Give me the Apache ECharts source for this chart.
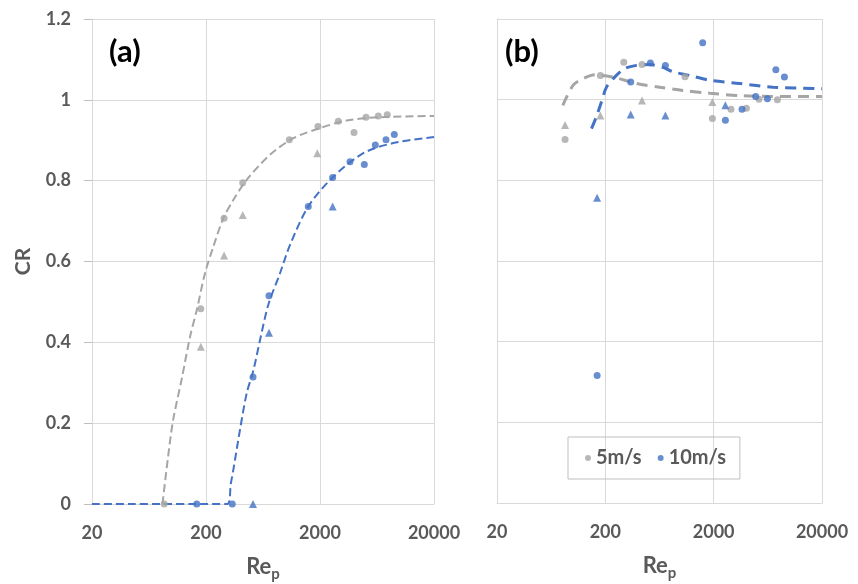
<!DOCTYPE html>
<html>
<head>
<meta charset="utf-8">
<script src="https://cdn.jsdelivr.net/npm/echarts@6/dist/echarts.min.js"></script>
<style>
  html, body { margin: 0; padding: 0; background: #fff; }
  #chart { width: 858px; height: 584px; }
</style>
</head>
<body>
<div id="chart"></div>
<script>
// x tick labels (Re_p, log spaced)
const xTicks = [20, 200, 2000, 20000];

// panel (a)
const reGreyCircA = [86, 180, 288, 420, 1076, 1920, 2896, 3975, 5066, 6492, 7780];
const crGreyCircA = [0, 0.483, 0.707, 0.795, 0.901, 0.934, 0.947, 0.919, 0.957, 0.96, 0.963];
const reGreyTriA = [180, 288, 420, 1894];
const crGreyTriA = [0.389, 0.615, 0.715, 0.868];
const reBlueCircA = [166, 340, 517, 714, 1578, 2582, 3666, 4894, 6112, 7586, 8972];
const crBlueCircA = [0, 0, 0.314, 0.515, 0.736, 0.808, 0.847, 0.84, 0.888, 0.901, 0.914];
const reBlueTriA = [517, 714, 2582];
const crBlueTriA = [0, 0.424, 0.736];
// fit curves (a)
const reFitGreyA = [83, 93, 103, 122, 145, 166, 196, 232, 284, 347, 455, 728, 1166, 2000, 3430, 6720, 20000];
const crFitGreyA = [0, 0.117, 0.208, 0.307, 0.414, 0.48, 0.571, 0.637, 0.707, 0.752, 0.802, 0.864, 0.905, 0.93, 0.949, 0.957, 0.96];
const reFitBlueA = [20, 308, 330, 347, 397, 455, 520, 595, 704, 892, 1092, 1578, 2582, 4797, 8790, 20000];
const crFitBlueA = [0, 0, 0.05, 0.084, 0.183, 0.274, 0.33, 0.405, 0.493, 0.571, 0.641, 0.736, 0.808, 0.868, 0.893, 0.908];

// panel (b)
const reGreyCircB = [85, 180, 296, 436, 1088, 1946, 2890, 4010, 5242, 7749];
const crGreyCircB = [0.901, 1.06, 1.093, 1.087, 1.057, 0.953, 0.976, 0.979, 1.001, 1.0];
const reGreyTriB = [85, 180, 436, 1946];
const crGreyTriB = [0.937, 0.961, 0.998, 0.994];
const reBlueCircB = [168, 343, 521, 717, 1584, 2566, 3654, 4886, 6266, 7500, 8996];
const crBlueCircB = [0.316, 1.044, 1.091, 1.085, 1.141, 0.949, 0.976, 1.008, 1.002, 1.074, 1.056];
const reBlueTriB = [168, 343, 717, 2566];
const crBlueTriB = [0.757, 0.963, 0.961, 0.986];
const reFitGreyB = [81, 101, 124, 160, 190, 253, 387, 635, 1042, 1838, 3478, 7064, 20000];
const crFitGreyB = [0.986, 1.036, 1.052, 1.062, 1.06, 1.054, 1.04, 1.031, 1.023, 1.016, 1.01, 1.008, 1.008];
const reFitBlueB = [149, 165, 184, 205, 244, 302, 387, 514, 681, 843, 1202, 1838, 3478, 7064, 20000];
const crFitBlueB = [0.928, 0.957, 0.994, 1.031, 1.056, 1.077, 1.085, 1.087, 1.08, 1.069, 1.06, 1.048, 1.04, 1.031, 1.027];

const GREY = '#A5A5A5';
const BLUE = '#4472C4';
const TEXT = '#595959';
const FONT = 'Lato, "Open Sans", sans-serif';

// x is plotted as decades above 20
const lx = (re) => Math.log10(re / xTicks[0]);
const pairs = (xs, ys) => xs.map((x, i) => [lx(x), ys[i]]);

function xAxisFor(gridIndex) {
  return {
    type: 'value',
    gridIndex,
    min: 0,
    max: lx(xTicks[xTicks.length - 1]),
    interval: 1,
    name: '{r|Re}{s|p}',
    nameLocation: 'middle',
    nameGap: 48,
    nameTextStyle: {
      rich: {
        r: { fontFamily: FONT, fontSize: 22, fontWeight: 'bold', color: TEXT },
        s: { fontFamily: FONT, fontSize: 15, fontWeight: 'bold', color: TEXT, padding: [15, 0, 0, 0] }
      }
    },
    axisLine: { show: true, lineStyle: { color: '#d9d9d9' } },
    axisTick: { show: false },
    axisLabel: {
      margin: 20,
      fontFamily: FONT,
      fontSize: 18,
      fontWeight: 'bold',
      color: TEXT,
      formatter: (v) => String(Math.round(xTicks[0] * Math.pow(10, v)))
    },
    splitLine: { show: true, lineStyle: { color: '#d9d9d9' } }
  };
}

function yAxisFor(gridIndex, labelled) {
  return {
    type: 'value',
    gridIndex,
    min: 0,
    max: 1.2,
    interval: 0.2,
    name: labelled ? 'CR' : '',
    nameLocation: 'middle',
    nameGap: 58,
    nameTextStyle: { fontFamily: FONT, fontSize: 21, fontWeight: 'bold', color: TEXT },
    axisLine: { show: true, lineStyle: { color: '#d9d9d9' } },
    axisTick: { show: labelled, length: 8, lineStyle: { color: '#bfbfbf' } },
    axisLabel: {
      show: labelled,
      margin: 21,
      fontFamily: FONT,
      fontSize: 18,
      fontWeight: 'bold',
      color: TEXT
    },
    splitLine: { show: true, lineStyle: { color: '#d9d9d9' } }
  };
}

function dots(name, idx, xs, ys, color, symbol) {
  return {
    name,
    type: 'scatter',
    xAxisIndex: idx,
    yAxisIndex: idx,
    symbol,
    symbolSize: symbol === 'triangle' ? 8 : 7,
    itemStyle: { color },
    z: 5,
    data: pairs(xs, ys)
  };
}

function fit(name, idx, xs, ys, color, width, dash) {
  return {
    name,
    type: 'line',
    xAxisIndex: idx,
    yAxisIndex: idx,
    smooth: 0.3,
    showSymbol: false,
    lineStyle: { color, width, type: dash },
    z: 3,
    silent: true,
    data: pairs(xs, ys)
  };
}

const chart = echarts.init(document.getElementById('chart'));
chart.setOption({
  backgroundColor: '#fff',
  animation: false,
  title: [
    { text: '(a)', left: 104, top: 31, textStyle: { fontFamily: FONT, fontSize: 31, fontWeight: 'bold', color: '#000' } },
    { text: '(b)', left: 500, top: 31, textStyle: { fontFamily: FONT, fontSize: 31, fontWeight: 'bold', color: '#000' } }
  ],
  legend: {
    left: 568,
    top: 437,
    padding: [11, 14, 11, 17],
    borderColor: '#bfbfbf',
    borderWidth: 1,
    itemWidth: 6,
    itemHeight: 6,
    itemGap: 16,
    textStyle: { fontFamily: FONT, fontSize: 20, fontWeight: 'bold', color: TEXT },
    data: [{ name: '5m/s', icon: 'circle' }, { name: '10m/s', icon: 'circle' }]
  },
  grid: [
    { left: 92, top: 19, width: 342, height: 485, outerBoundsMode: 'none' },
    { left: 497, top: 19, width: 325, height: 484, outerBoundsMode: 'none' }
  ],
  xAxis: [xAxisFor(0), xAxisFor(1)],
  yAxis: [yAxisFor(0, true), yAxisFor(1, false)],
  series: [
    fit('fit 10m/s (a)', 0, reFitBlueA, crFitBlueA, BLUE, 2, [8, 4]),
    fit('fit 5m/s (a)', 0, reFitGreyA, crFitGreyA, GREY, 2, [8, 4]),
    dots('5m/s', 0, reGreyCircA, crGreyCircA, GREY, 'circle'),
    dots('5m/s tri (a)', 0, reGreyTriA, crGreyTriA, GREY, 'triangle'),
    dots('10m/s', 0, reBlueCircA, crBlueCircA, BLUE, 'circle'),
    dots('10m/s tri (a)', 0, reBlueTriA, crBlueTriA, BLUE, 'triangle'),

    fit('fit 5m/s (b)', 1, reFitGreyB, crFitGreyB, GREY, 3, [11, 7]),
    fit('fit 10m/s (b)', 1, reFitBlueB, crFitBlueB, BLUE, 3, [11, 7]),
    dots('5m/s', 1, reGreyCircB, crGreyCircB, GREY, 'circle'),
    dots('5m/s tri (b)', 1, reGreyTriB, crGreyTriB, GREY, 'triangle'),
    dots('10m/s', 1, reBlueCircB, crBlueCircB, BLUE, 'circle'),
    dots('10m/s tri (b)', 1, reBlueTriB, crBlueTriB, BLUE, 'triangle')
  ]
});
</script>
</body>
</html>
